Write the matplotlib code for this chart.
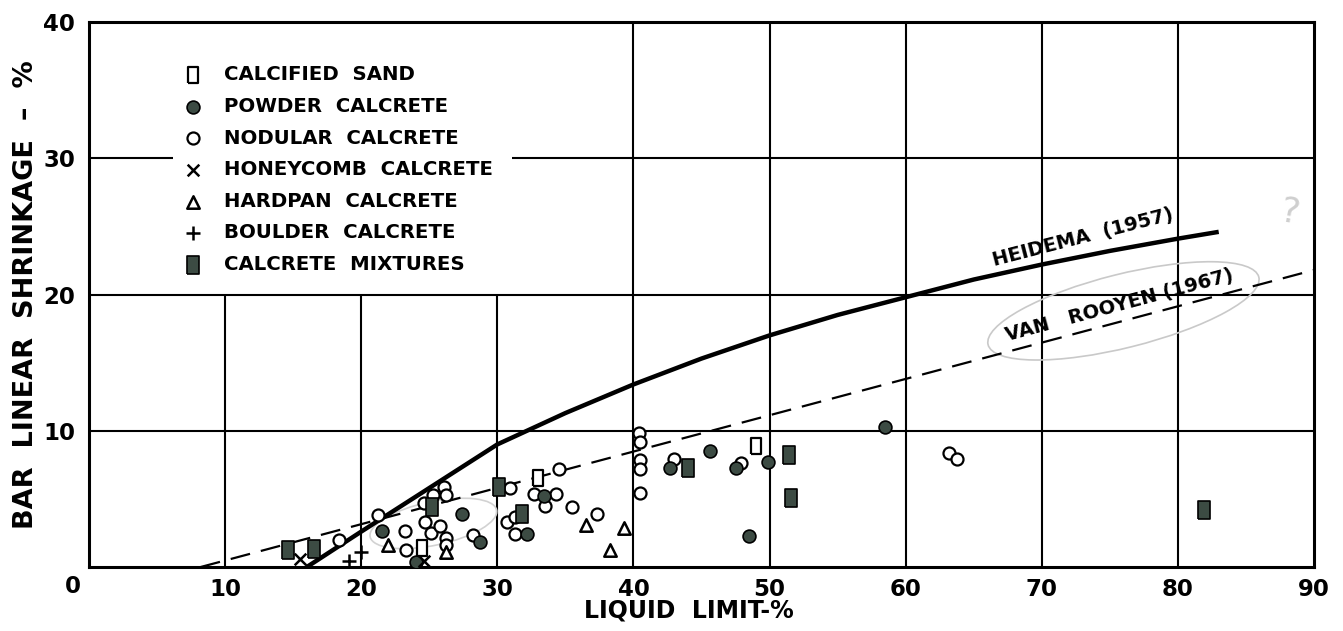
import numpy as np
import matplotlib.pyplot as plt
from matplotlib.patches import Ellipse

plt.rcParams['font.family'] = 'DejaVu Sans'
plt.rcParams['font.weight'] = 'bold'
plt.rcParams['axes.labelweight'] = 'bold'

# liquid limit (%) and bar linear shrinkage (%) for each calcrete type
sand_ll = [24.5, 33.0, 49.0]
sand_ls = [1.4, 6.55, 8.9]

powder_ll = [21.5, 24.0, 27.4, 28.75, 32.2, 33.4, 42.7, 45.6, 47.5, 49.9, 48.5, 58.5]
powder_ls = [2.65, 0.35, 3.9, 1.85, 2.4, 5.2, 7.25, 8.55, 7.25, 7.7, 2.3, 10.3]

nodular_ll = [18.4, 21.2, 23.2, 23.3, 24.6, 24.7, 25.3, 26.1, 26.2, 25.1, 25.8, 26.2, 26.2,
              28.2, 30.9, 30.7, 31.3, 31.3, 32.7, 34.3, 33.5, 34.5, 35.5, 37.3,
              40.4, 40.5, 40.5, 40.5, 40.5, 43.0, 47.9, 63.2, 63.75]
nodular_ls = [2.0, 3.85, 2.65, 1.25, 4.7, 3.3, 5.3, 5.9, 5.3, 2.5, 3.0, 2.1, 1.6,
              2.35, 5.8, 3.3, 3.7, 2.4, 5.35, 5.35, 4.5, 7.2, 4.4, 3.9,
              9.85, 9.2, 7.85, 7.2, 5.4, 7.9, 7.6, 8.4, 7.9]

honeycomb_ll = [15.5, 24.6]
honeycomb_ls = [0.6, 0.45]

hardpan_ll = [22.0, 26.2, 36.5, 38.3, 39.3]
hardpan_ls = [1.6, 1.1, 3.1, 1.25, 2.9]

boulder_ll = [19.1, 20.0]
boulder_ls = [0.45, 1.1]

mixture_ll = [14.65, 16.5, 25.2, 30.1, 31.8, 44.0, 51.4, 51.6, 81.9]
mixture_ls = [1.25, 1.3, 4.4, 5.9, 3.9, 7.3, 8.2, 5.1, 4.2]

# published relationships
heidema_ll = [16, 20, 25, 30, 35, 40, 45, 50, 55, 60, 65, 70, 75, 80, 83]
heidema_ls = [0, 2.6, 5.8, 9.0, 11.3, 13.4, 15.3, 17.0, 18.5, 19.8, 21.1, 22.2, 23.2, 24.1, 24.6]

rooyen_ll = [8.2, 90]
rooyen_ls = [0, 21.8]

xticks = [10, 20, 30, 40, 50, 60, 70, 80, 90]
yticks = [10, 20, 30, 40]

fig = plt.figure(figsize=(13.43, 6.31), dpi=100)
ax = fig.add_axes([0.0663, 0.1014, 0.9121, 0.8637])
ax.set_xlim(0, 90)
ax.set_ylim(0, 40)

# grid drawn by hand so the legend corner stays clear
gkw = dict(color='black', lw=1.5, zorder=1)
ax.hlines([10, 20], 0, 90, **gkw)
ax.hlines(30, 0, 6.2, **gkw)
ax.hlines(30, 31.1, 90, **gkw)
ax.vlines([10, 20, 30], 0, 20, **gkw)
ax.vlines([40, 50, 60, 70, 80], 0, 40, **gkw)

ax.plot(heidema_ll, heidema_ls, color='black', lw=3.2, solid_capstyle='butt', zorder=2)
ax.plot(rooyen_ll, rooyen_ls, color='black', lw=1.6, dashes=(9, 5), zorder=2)

ax.text(73.0, 24.2, 'HEIDEMA  (1957)', rotation=14.5, ha='center', va='center', fontsize=14)
ax.text(75.7, 19.2, 'VAN   ROOYEN (1967)', rotation=15, ha='center', va='center', fontsize=14)

# pencil marks
ax.add_patch(Ellipse((76, 18.8), 20.5, 5.4, angle=14, fill=False, ec='#c9c9c9', lw=1.2, zorder=1))
ax.add_patch(Ellipse((25.3, 3.2), 9.5, 3.2, angle=12, fill=False, ec='#d2d2d2', lw=1.2, zorder=1))
ax.text(88.2, 26.0, '?', color='#cfcfcf', fontsize=26, fontweight='normal', rotation=-10,
        ha='center', va='center')

fill = '#3c4b43'
rect = [(-0.33, -0.5), (0.33, -0.5), (0.33, 0.5), (-0.33, 0.5), (-0.33, -0.5)]
ax.scatter(sand_ll, sand_ls, marker=rect, s=125, facecolor='white', edgecolor='black',
           lw=1.6, zorder=4, label='CALCIFIED  SAND')
ax.scatter(powder_ll, powder_ls, marker='o', s=85, facecolor=fill, edgecolor='black',
           lw=1.2, zorder=4, label='POWDER  CALCRETE')
ax.scatter(nodular_ll, nodular_ls, marker='o', s=75, facecolor='white', edgecolor='black',
           lw=1.6, zorder=3, label='NODULAR  CALCRETE')
ax.scatter(honeycomb_ll, honeycomb_ls, marker='x', s=70, color='black', lw=1.8,
           zorder=4, label='HONEYCOMB  CALCRETE')
ax.scatter(hardpan_ll, hardpan_ls, marker='^', s=80, facecolor='white', edgecolor='black',
           lw=1.8, zorder=4, label='HARDPAN  CALCRETE')
ax.scatter(boulder_ll, boulder_ls, marker='+', s=110, color='black', lw=1.8,
           zorder=4, label='BOULDER  CALCRETE')
ax.scatter(mixture_ll, mixture_ls, marker=rect, s=150, facecolor=fill, edgecolor='black',
           lw=1.2, zorder=4, label='CALCRETE  MIXTURES')

leg = ax.legend(loc='upper left', bbox_to_anchor=(0.07, 0.935), frameon=False,
                fontsize=14.2, labelspacing=0.64, handletextpad=1.1, handlelength=1.0,
                borderaxespad=0)

for s in ax.spines.values():
    s.set_linewidth(2.2)
ax.tick_params(length=0, labelsize=16.5)
ax.tick_params(axis='x', pad=8)
ax.tick_params(axis='y', pad=10)
ax.set_xticks(xticks)
ax.set_yticks(yticks)
ax.set_xticklabels([str(v) for v in xticks])
ax.set_yticklabels([str(v) for v in yticks])
ax.text(-1.2, -0.6, '0', ha='center', va='top', fontsize=16.5, clip_on=False)

ax.set_xlabel('LIQUID  LIMIT-%', fontsize=17)
ax.set_ylabel('BAR  LINEAR  SHRINKAGE  –  %', fontsize=19.5)
ax.xaxis.set_label_coords(0.49, -0.058)
ax.yaxis.set_label_coords(-0.041, 0.5)

fig.savefig('out.png', dpi=100, facecolor='white')
